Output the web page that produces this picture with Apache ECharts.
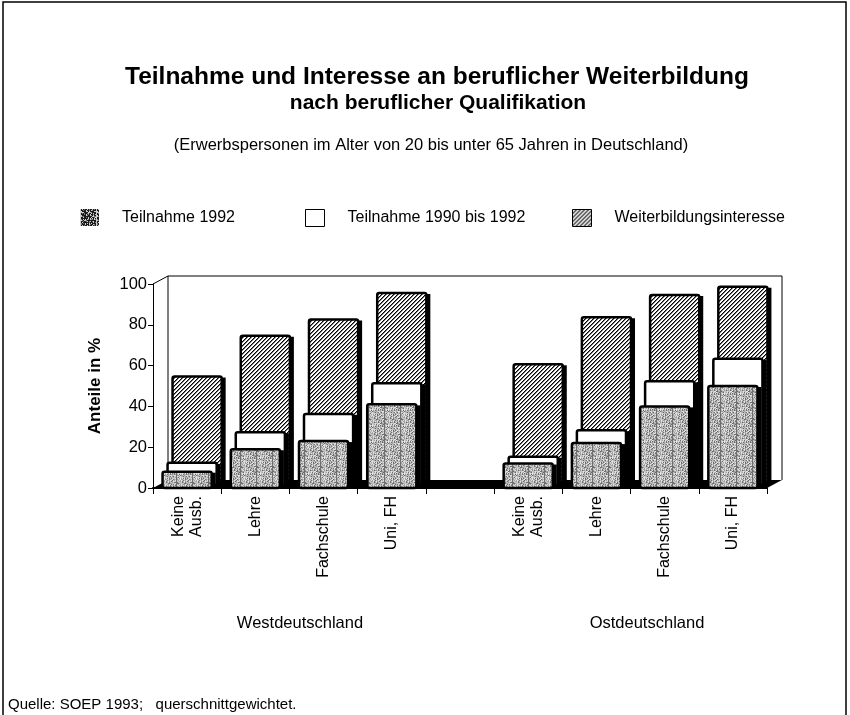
<!DOCTYPE html>
<html><head><meta charset="utf-8">
<script src="https://cdn.jsdelivr.net/npm/echarts@6/dist/echarts.min.js"></script>
<style>html,body{margin:0;padding:0;background:#fff}#c{width:850px;height:715px}</style>
</head><body><div id="c"></div>
<script>
// ---- data ----
const qualifications = ['Keine\nAusb.', 'Lehre', 'Fachschule', 'Uni, FH'];
const regions = ['Westdeutschland', 'Ostdeutschland'];
const westTeilnahme1992 = [8, 19, 23, 41];
const westTeilnahme9092 = [11, 26, 35, 50];
const westInteresse = [52, 72, 80, 93];
const eastTeilnahme1992 = [12, 22, 40, 50];
const eastTeilnahme9092 = [14, 27, 51, 62];
const eastInteresse = [58, 81, 92, 96];
const yTicks = [0, 20, 40, 60, 80, 100];
const seriesNames = ['Teilnahme 1992', 'Teilnahme 1990 bis 1992', 'Weiterbildungsinteresse'];

// categories: west block, empty gap, east block
const categories = qualifications.concat([''], qualifications);
function build(west, east) {
  const out = [];
  west.forEach((v, i) => out.push([i, v]));
  east.forEach((v, i) => out.push([i + west.length + 1, v]));
  return out;
}

// ---- textures ----
function makeCanvas(n, fn) {
  const c = document.createElement('canvas');
  c.width = n; c.height = n;
  const ctx = c.getContext('2d');
  for (let y = 0; y < n; y++) for (let x = 0; x < n; x++) {
    ctx.fillStyle = fn(x, y); ctx.fillRect(x, y, 1, 1);
  }
  return c;
}
const speckle = makeCanvas(16, (x, y) => {
  const v = (x * 37 + y * 61 + x * y * 13 + (x ^ y) * 7) % 17;
  return v < 3 ? '#6e6e6e' : v < 8 ? '#a0a0a0' : v < 13 ? '#c2c2c2' : '#e2e2e2';
});
const darkSpeckle = makeCanvas(16, (x, y) => {
  const v = (x * 37 + y * 61 + x * y * 13 + (x ^ y) * 7) % 17;
  return v < 4 ? '#cfcfcf' : v < 7 ? '#777' : '#1a1a1a';
});
const hatch = makeCanvas(4, (x, y) => {
  const m = (x + y) % 4;
  return m === 3 ? '#000' : m === 0 ? '#777' : '#fff';
});
const fills = [
  { image: speckle, repeat: 'repeat' },
  '#ffffff',
  { image: hatch, repeat: 'repeat' }
];

const DX = 5, DY = -2.7;
function makeRender(layer) {
  return function (params, api) {
    const idx = api.value(0), val = api.value(1);
    const band = api.size([1, 0])[0];
    const p0 = api.coord([idx, 0]);
    const p1 = api.coord([idx, val]);
    const w = band * 0.72;
    const x = p0[0] - w / 2 + layer * DX;
    const yb = p0[1] + layer * DY, yt = p1[1] + layer * DY;
    return {
      type: 'group', children: [
        { type: 'rect', shape: { x: x + w - 1.5, y: yt + 1, width: 5.5, height: yb - yt - 1 }, style: { fill: '#000' } },
        { type: 'rect', shape: { x: x, y: yt, width: w, height: yb - yt, r: 2 }, style: { fill: fills[layer], stroke: '#000', lineWidth: 2.5 } }
      ]
    };
  };
}

function frameRender(params, api) {
  const cs = params.coordSys;
  const x = cs.x, y = cs.y, w = cs.width, h = cs.height;
  const ddx = 15, ddy = -8;
  return {
    type: 'group', children: [
      { type: 'polygon', shape: { points: [[x, y + h], [x + w, y + h], [x + w + ddx, y + h + ddy], [x + ddx, y + h + ddy]] }, style: { fill: '#000' } },
      { type: 'polyline', shape: { points: [[x + ddx, y + h + ddy], [x + ddx, y + ddy], [x + w + ddx, y + ddy], [x + w + ddx, y + h + ddy]] }, style: { stroke: '#000', lineWidth: 1, fill: null } },
      { type: 'line', shape: { x1: x, y1: y, x2: x + ddx, y2: y + ddy }, style: { stroke: '#000', lineWidth: 1 } }
    ]
  };
}

const FONT = 'Liberation Sans';
const chart = echarts.init(document.getElementById('c'), null, { renderer: 'canvas' });
function legendAt(name, left, color, border) {
  return {
    data: [{ name: name, itemStyle: { color: color, borderColor: '#000', borderWidth: border } }],
    left: left, top: 204, icon: 'rect', itemWidth: 19, itemHeight: 17, selectedMode: false,
    textStyle: { fontFamily: FONT, fontSize: 16, color: '#000', padding: [0, 0, 0, 18] }
  };
}
chart.setOption({
  animation: false,
  backgroundColor: '#fff',
  textStyle: { fontFamily: FONT, color: '#000' },
  title: [
    { text: 'Teilnahme und Interesse an beruflicher Weiterbildung', left: 432, textAlign: 'center', top: 60, textStyle: { fontFamily: FONT, fontSize: 24.5, fontWeight: 'bold', color: '#000' } },
    { text: 'nach beruflicher Qualifikation', left: 433, textAlign: 'center', top: 88, textStyle: { fontFamily: FONT, fontSize: 21, fontWeight: 'bold', color: '#000' } },
    { text: '(Erwerbspersonen im Alter von 20 bis unter 65 Jahren in Deutschland)', left: 426, textAlign: 'center', top: 132, textStyle: { fontFamily: FONT, fontSize: 16.5, fontWeight: 'normal', color: '#000' } },
    { text: regions[0], left: 295, textAlign: 'center', top: 610, textStyle: { fontFamily: FONT, fontSize: 16.5, fontWeight: 'normal', color: '#000' } },
    { text: regions[1], left: 642, textAlign: 'center', top: 610, textStyle: { fontFamily: FONT, fontSize: 16.5, fontWeight: 'normal', color: '#000' } },
    { text: 'Quelle: SOEP 1993;   querschnittgewichtet.', left: 3, top: 692, textStyle: { fontFamily: FONT, fontSize: 15, fontWeight: 'normal', color: '#000' } }
  ],
  legend: [
    legendAt(seriesNames[0], 75, { image: darkSpeckle, repeat: 'repeat' }, 0),
    legendAt(seriesNames[1], 300, '#fff', 1),
    legendAt(seriesNames[2], 567, { image: hatch, repeat: 'repeat' }, 1)
  ],
  graphic: [
    { type: 'rect', shape: { x: 3, y: 2, width: 843, height: 730 }, style: { fill: null, stroke: '#000', lineWidth: 1.5 }, silent: true }
  ],
  grid: { left: 153, right: 83, top: 284, bottom: 227, containLabel: false },
  xAxis: {
    type: 'category', data: categories,
    axisLine: { lineStyle: { color: '#000', width: 2 } },
    axisTick: { show: true, length: 6, lineStyle: { color: '#000' }, interval: 0 },
    axisLabel: { interval: 0, rotate: 90, fontSize: 16, color: '#000', margin: 8, lineHeight: 18, fontFamily: FONT }
  },
  yAxis: {
    type: 'value', min: 0, max: 100, interval: 20,
    name: 'Anteile in %', nameLocation: 'middle', nameRotate: 90, nameGap: 49,
    nameTextStyle: { fontSize: 17, fontWeight: 'bold', color: '#000', fontFamily: FONT },
    axisLine: { show: true, lineStyle: { color: '#000', width: 1 } },
    axisTick: { show: true, length: 5, lineStyle: { color: '#000' } },
    axisLabel: { fontSize: 16.5, color: '#000', margin: 6, fontFamily: FONT,
      formatter: v => (yTicks.indexOf(v) >= 0 ? String(v) : '') },
    splitLine: { show: false }
  },
  series: [
    { type: 'custom', name: 'frame', renderItem: frameRender, data: [[0, 0]], z: 1, silent: true },
    { type: 'custom', name: seriesNames[2], renderItem: makeRender(2), data: build(westInteresse, eastInteresse), z: 2, itemStyle: { color: fills[2] } },
    { type: 'custom', name: seriesNames[1], renderItem: makeRender(1), data: build(westTeilnahme9092, eastTeilnahme9092), z: 3, itemStyle: { color: '#fff' } },
    { type: 'custom', name: seriesNames[0], renderItem: makeRender(0), data: build(westTeilnahme1992, eastTeilnahme1992), z: 4, itemStyle: { color: fills[0] } }
  ]
});
</script></body></html>
